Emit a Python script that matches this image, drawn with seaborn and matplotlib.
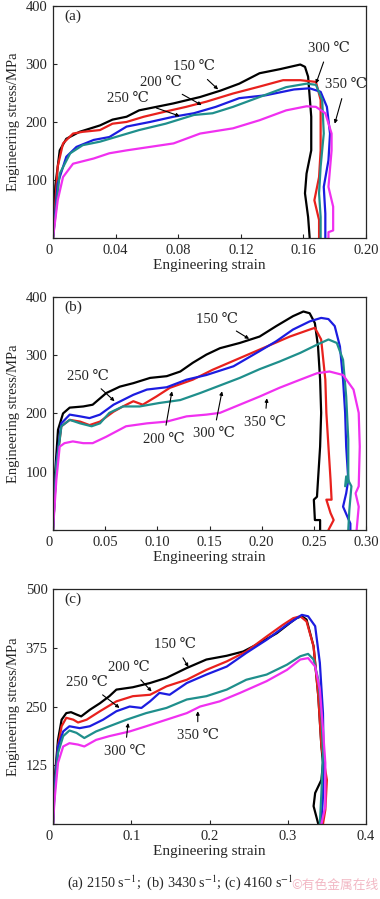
import numpy as np
import pandas as pd
import matplotlib
matplotlib.use("Agg")
import matplotlib.pyplot as plt
import seaborn as sns

# Temperaturas y colores
temps = ["150", "200", "250", "300", "350"]
colores = ["#000000", "#e8211d", "#1c1ce0", "#1f8f8c", "#f030f0"]

# Panel (a) 2150 s-1
strain_a = {
    "150": [0, 0.0015, 0.0043, 0.0085, 0.017, 0.030, 0.038, 0.047, 0.055, 0.066, 0.077, 0.094, 0.107, 0.119, 0.132, 0.145, 0.158, 0.161, 0.163, 0.165, 0.165, 0.162, 0.161, 0.163, 0.164],
    "200": [0, 0.003, 0.0064, 0.0128, 0.019, 0.030, 0.038, 0.047, 0.058, 0.072, 0.085, 0.098, 0.115, 0.132, 0.147, 0.158, 0.168, 0.171, 0.171, 0.170, 0.167, 0.170, 0.170],
    "250": [0, 0.003, 0.0085, 0.015, 0.026, 0.036, 0.047, 0.062, 0.077, 0.090, 0.104, 0.119, 0.136, 0.154, 0.164, 0.171, 0.175, 0.177, 0.176, 0.173, 0.174, 0.174],
    "300": [0, 0.0043, 0.011, 0.019, 0.030, 0.040, 0.055, 0.072, 0.090, 0.102, 0.115, 0.132, 0.149, 0.162, 0.168, 0.172, 0.173, 0.171, 0.170, 0.171, 0.171],
    "350": [0, 0.003, 0.0064, 0.0128, 0.026, 0.036, 0.047, 0.062, 0.077, 0.094, 0.115, 0.132, 0.149, 0.162, 0.168, 0.174, 0.178, 0.178, 0.176, 0.179, 0.179, 0.176, 0.176],
}
stress_a = {
    "150": [0, 90, 151, 171, 183, 194, 204, 209, 220, 226, 232, 243, 254, 266, 284, 291, 299, 295, 278, 209, 151, 111, 77, 36, 0],
    "200": [0, 123, 163, 180, 183, 186, 197, 200, 209, 218, 226, 235, 249, 261, 272, 272, 269, 238, 151, 105, 65, 31, 0],
    "250": [0, 94, 140, 157, 169, 174, 192, 200, 209, 215, 226, 241, 246, 256, 258, 252, 226, 180, 134, 88, 42, 0],
    "300": [0, 111, 146, 160, 166, 174, 186, 197, 212, 215, 226, 243, 260, 266, 264, 238, 180, 123, 77, 36, 0],
    "350": [0, 65, 105, 128, 137, 146, 151, 157, 163, 180, 189, 203, 220, 227, 226, 215, 180, 151, 88, 54, 13, 10, 0],
}

# Panel (b) 3430 s-1
strain_b = {
    "150": [0, 0.0016, 0.0048, 0.0096, 0.016, 0.029, 0.038, 0.051, 0.064, 0.077, 0.093, 0.109, 0.122, 0.134, 0.147, 0.160, 0.179, 0.198, 0.214, 0.230, 0.240, 0.246, 0.251, 0.254, 0.256, 0.257, 0.256, 0.254, 0.253, 0.250, 0.251, 0.256, 0.256],
    "200": [0, 0.0032, 0.008, 0.016, 0.026, 0.035, 0.045, 0.058, 0.067, 0.077, 0.086, 0.099, 0.112, 0.134, 0.153, 0.179, 0.205, 0.227, 0.246, 0.251, 0.257, 0.261, 0.262, 0.264, 0.266, 0.267, 0.262, 0.266, 0.269, 0.264],
    "250": [0, 0.0032, 0.008, 0.016, 0.026, 0.035, 0.045, 0.058, 0.077, 0.090, 0.109, 0.128, 0.147, 0.173, 0.198, 0.214, 0.230, 0.246, 0.257, 0.264, 0.270, 0.275, 0.278, 0.280, 0.281, 0.283, 0.281, 0.278, 0.285, 0.285],
    "300": [0, 0.0032, 0.008, 0.016, 0.026, 0.037, 0.045, 0.054, 0.067, 0.083, 0.102, 0.122, 0.141, 0.160, 0.179, 0.198, 0.217, 0.237, 0.253, 0.264, 0.272, 0.278, 0.281, 0.283, 0.283, 0.280, 0.281, 0.286, 0.284, 0.283],
    "350": [0, 0.0032, 0.0064, 0.011, 0.019, 0.029, 0.038, 0.051, 0.070, 0.090, 0.109, 0.128, 0.147, 0.160, 0.179, 0.198, 0.217, 0.237, 0.253, 0.265, 0.278, 0.288, 0.293, 0.294, 0.293, 0.290, 0.293, 0.291],
}
stress_b = {
    "150": [0, 86, 172, 200, 210, 212, 215, 235, 246, 252, 261, 264, 272, 287, 301, 312, 321, 332, 350, 367, 375, 372, 355, 315, 258, 201, 143, 86, 57, 52, 17, 17, 0],
    "200": [0, 109, 178, 189, 186, 180, 186, 203, 212, 221, 215, 229, 244, 258, 275, 295, 315, 332, 344, 347, 327, 258, 201, 143, 86, 52, 52, 29, 17, 0],
    "250": [0, 115, 183, 198, 195, 192, 198, 215, 232, 241, 245, 258, 266, 281, 307, 324, 344, 358, 364, 362, 350, 315, 258, 201, 143, 86, 63, 40, 11, 0],
    "300": [0, 109, 178, 189, 183, 178, 183, 201, 212, 212, 218, 223, 235, 248, 261, 276, 289, 304, 318, 327, 321, 292, 229, 155, 86, 75, 92, 75, 34, 0],
    "350": [0, 86, 143, 149, 152, 149, 149, 160, 178, 183, 186, 195, 198, 201, 215, 229, 244, 258, 269, 272, 266, 241, 201, 143, 75, 63, 40, 0],
}

# Panel (c) 4160 s-1
strain_c = {
    "150": [0, 0.002, 0.0064, 0.011, 0.017, 0.023, 0.030, 0.036, 0.047, 0.060, 0.072, 0.081, 0.102, 0.124, 0.145, 0.171, 0.196, 0.222, 0.243, 0.264, 0.286, 0.303, 0.311, 0.318, 0.324, 0.333, 0.339, 0.343, 0.345, 0.343, 0.335, 0.333, 0.339],
    "200": [0, 0.002, 0.0064, 0.011, 0.017, 0.026, 0.032, 0.043, 0.060, 0.081, 0.102, 0.124, 0.145, 0.171, 0.196, 0.222, 0.247, 0.273, 0.294, 0.307, 0.316, 0.324, 0.333, 0.339, 0.343, 0.350, 0.348, 0.345],
    "250": [0, 0.002, 0.0064, 0.013, 0.021, 0.034, 0.047, 0.064, 0.081, 0.098, 0.113, 0.124, 0.136, 0.149, 0.171, 0.196, 0.222, 0.247, 0.273, 0.299, 0.318, 0.326, 0.335, 0.341, 0.345, 0.346, 0.345, 0.343],
    "300": [0, 0.002, 0.0064, 0.013, 0.021, 0.030, 0.040, 0.055, 0.072, 0.094, 0.119, 0.145, 0.171, 0.196, 0.222, 0.247, 0.273, 0.299, 0.316, 0.326, 0.333, 0.339, 0.343, 0.345, 0.343, 0.341],
    "350": [0, 0.002, 0.0064, 0.013, 0.021, 0.032, 0.040, 0.055, 0.072, 0.098, 0.119, 0.145, 0.171, 0.188, 0.213, 0.239, 0.273, 0.299, 0.316, 0.326, 0.335, 0.341, 0.345, 0.348, 0.348, 0.343],
}
stress_c = {
    "150": [0, 94, 179, 222, 236, 238, 233, 229, 243, 257, 272, 286, 291, 300, 311, 332, 350, 358, 367, 385, 406, 428, 438, 442, 435, 378, 272, 165, 130, 94, 66, 38, 0],
    "200": [0, 80, 165, 208, 226, 222, 216, 222, 240, 261, 272, 275, 293, 307, 328, 346, 367, 399, 424, 438, 442, 431, 378, 272, 165, 94, 30, 0],
    "250": [0, 80, 165, 197, 208, 204, 208, 222, 240, 250, 247, 261, 279, 275, 300, 318, 335, 364, 392, 424, 445, 442, 421, 343, 236, 130, 59, 0],
    "300": [0, 66, 151, 187, 199, 194, 183, 197, 208, 222, 236, 247, 265, 272, 286, 307, 318, 339, 357, 362, 350, 307, 236, 151, 66, 0],
    "350": [0, 52, 130, 165, 172, 169, 165, 179, 187, 197, 208, 222, 236, 250, 261, 279, 304, 328, 350, 353, 335, 286, 201, 130, 38, 0],
}

# Etiquetas: (temp, texto x, texto y, flecha x, flecha y)
etiquetas_a = [("150", 0.090, 295, 0.1055, 256), ("200", 0.069, 268, 0.095, 229),
               ("250", 0.048, 241, 0.081, 210), ("300", 0.176, 327, 0.168, 266),
               ("350", 0.187, 264, 0.180, 197)]
etiquetas_b = [("150", 0.157, 362, 0.188, 328), ("250", 0.033, 264, 0.059, 221),
               ("200", 0.106, 156, 0.114, 238), ("300", 0.154, 165, 0.162, 238),
               ("350", 0.203, 185, 0.205, 226)]
etiquetas_c = [("150", 0.156, 382, 0.173, 334), ("200", 0.097, 334, 0.126, 282),
               ("250", 0.043, 301, 0.085, 247), ("300", 0.092, 155, 0.096, 215),
               ("350", 0.185, 188, 0.185, 240)]

sns.set_style("ticks")
plt.rcParams["font.family"] = ["Liberation Serif", "DejaVu Serif", "Noto Sans CJK SC"]
plt.rcParams["mathtext.fontset"] = "stix"

fig = plt.figure(figsize=(3.8, 8.99), dpi=100)

paneles = [
    ("(a)", strain_a, stress_a, etiquetas_a, [0.1395, 0.7353, 0.8237, 0.2581],
     0.20, np.arange(0, 0.201, 0.04), ["0", "0.04", "0.08", "0.12", "0.16", "0.20"], 400, [0, 100, 200, 300, 400]),
    ("(b)", strain_b, stress_b, etiquetas_b, [0.1395, 0.4105, 0.8237, 0.2592],
     0.30, np.arange(0, 0.301, 0.05), ["0", "0.05", "0.10", "0.15", "0.20", "0.25", "0.30"], 400, [0, 100, 200, 300, 400]),
    ("(c)", strain_c, stress_c, etiquetas_c, [0.1395, 0.0834, 0.8237, 0.2614],
     0.4, np.arange(0, 0.401, 0.1), ["0", "0.1", "0.2", "0.3", "0.4"], 500, [0, 125, 250, 375, 500]),
]

for letra, sx, sy, etiquetas, pos, xmax, xt, xtl, ymax, yt in paneles:
    ax = fig.add_axes(pos)
    filas = []
    for t in temps:
        for i, (x, y) in enumerate(zip(sx[t], sy[t])):
            filas.append({"strain": x, "stress": y, "temp": t, "orden": i})
    df = pd.DataFrame(filas)
    sns.lineplot(data=df, x="strain", y="stress", hue="temp", palette=colores,
                 sort=False, estimator=None, units="temp", linewidth=1.6,
                 legend=False, ax=ax)
    ax.set_xlim(0, xmax)
    ax.set_ylim(0, ymax)
    ax.set_xticks(xt)
    ax.set_xticklabels(xtl)
    ax.set_yticks(yt)
    # el "0" de la esquina solo una vez
    ax.set_yticklabels([""] + [str(v) for v in yt[1:]])
    ax.tick_params(direction="in", length=3, width=0.8, labelsize=10.5, pad=4)
    ax.get_xticklabels()[0].set_horizontalalignment("right")
    for s in ax.spines.values():
        s.set_visible(True)
        s.set_linewidth(0.9)
    ax.set_xlabel("Engineering strain", fontsize=11, labelpad=2)
    ax.set_ylabel("Engineering stress/MPa", fontsize=10.5, labelpad=4)
    ax.text(0.035, 0.985, letra, transform=ax.transAxes, ha="left", va="top", fontsize=11)
    for t, tx, ty, ax_x, ax_y in etiquetas:
        ax.annotate(t + " ℃", xy=(ax_x, ax_y), xytext=(tx, ty),
                    ha="center", va="center", fontsize=10.5,
                    arrowprops=dict(arrowstyle="-|>", color="black", lw=0.8,
                                    mutation_scale=5, shrinkA=3, shrinkB=0))

fig.text(0.475, 0.008, r"(a) 2150 s$^{-1}$;  (b) 3430 s$^{-1}$; (c) 4160 s$^{-1}$",
         ha="center", va="bottom", fontsize=10.2)
fig.text(0.995, 0.008, "©有色金属在线", ha="right", va="bottom", fontsize=9.2,
         color="#f2b8c4", family=["Noto Sans CJK SC", "DejaVu Sans"])

fig.savefig("out.png", dpi=100)
